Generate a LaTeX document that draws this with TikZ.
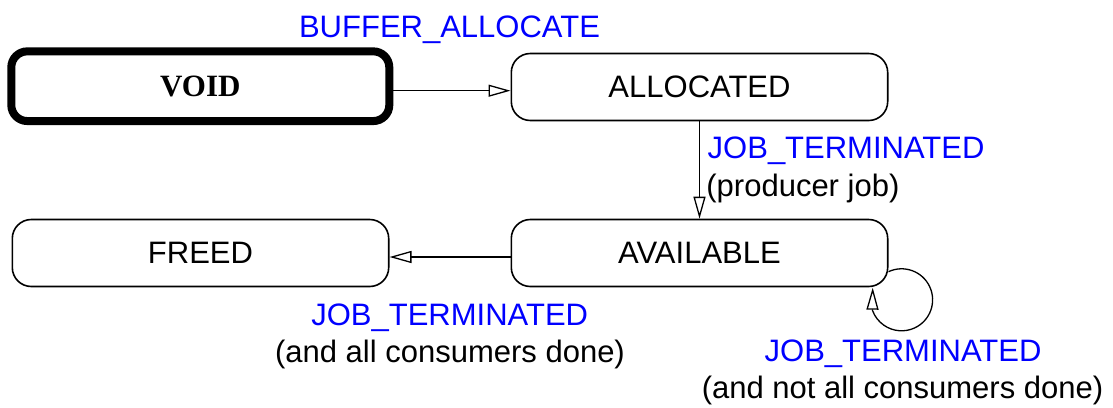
\documentclass[tikz,border=0pt]{standalone}
\usepackage{fontspec}
\setmainfont{Liberation Sans}
\newfontfamily\statefont{Liberation Serif}
\usetikzlibrary{arrows.meta}
\definecolor{eventblue}{RGB}{0,0,255}
\begin{document}
\begin{tikzpicture}[x=0.5pt,y=0.5pt,
  labelfont/.style={font=\fontsize{15.5}{18.5}\selectfont},
  statebox/.style={draw, rounded corners=9.5pt, line width=0.8pt,
    minimum width=188.2pt, minimum height=33.5pt, inner sep=0pt, labelfont},
  initialbox/.style={statebox, line width=4pt, rounded corners=8pt,
    minimum width=189pt, minimum height=34.85pt,
    font=\statefont\bfseries\fontsize{15.5}{18.5}\selectfont},
  event/.style={labelfont, text=eventblue, inner sep=0pt},
  cond/.style={labelfont, inner sep=0pt},
  trans/.style={line width=0.65pt, -{Triangle[open,length=11pt,width=6pt]}}
]
\useasboundingbox (0,0) rectangle (1113,-407);

% states
\node[initialbox] (void)  at (200.3,-86.2) {VOID};
\node[statebox]   (alloc) at (699.5,-87)   {ALLOCATED};
\node[statebox]   (freed) at (200.5,-253)  {FREED};
\node[statebox]   (avail) at (699.5,-253)  {AVAILABLE};

% transitions
\draw[trans] ([yshift=-2.25pt]void.east) -- ([yshift=-2.25pt]void.east -| alloc.west);
\draw[trans] (alloc.south) -- (avail.north);
\draw[trans] ([yshift=-2pt]avail.west) -- ([yshift=-2pt]avail.west -| freed.east);
\coordinate (looptip) at ([xshift=-7.9pt,yshift=-0.2pt]avail.south east);
\draw[trans] ([yshift=-9.35pt]avail.east)
  arc[start angle=115, end angle=-160, radius=15.5pt] -- (looptip);

% transition labels
\node[event, anchor=base] (lblalloc) at (449.5,-37.7) {BUFFER\_ALLOCATE};
\node[event, anchor=base west] (lblprod) at (707.3,-158.3) {JOB\_TERMINATED};
\node[cond, anchor=base west] (lblprodc) at (706,-196.7) {(producer job)};
\node[event, anchor=base] (lblfree) at (449.7,-325) {JOB\_TERMINATED};
\node[cond, anchor=base] (lblfreec) at (450,-362.7) {(and all consumers done)};
\node[event, anchor=base] (lblloop) at (903,-361.7) {JOB\_TERMINATED};
\node[cond, anchor=base] (lblloopc) at (902.5,-398.3) {(and not all consumers done)};
\end{tikzpicture}
\end{document}
